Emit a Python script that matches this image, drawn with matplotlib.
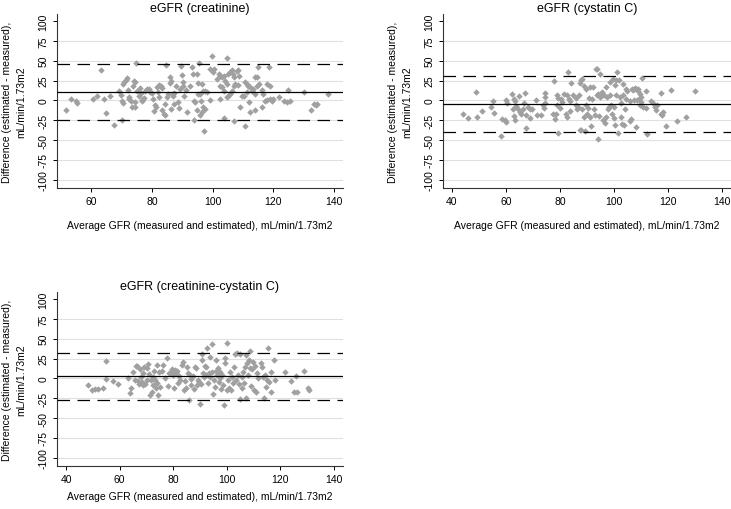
import numpy as np
import matplotlib.pyplot as plt

# Bland-Altman plots: eGFR vs measured GFR

plt.rcParams['font.family'] = ['Liberation Sans', 'DejaVu Sans']

# panel 1 - creatinine
cr_avg = [51.8, 53.5, 55.0, 55.4, 60.8, 62.1, 63.2, 64.1, 64.9, 66.3, 67.7, 69.3, 69.8, 70.1, 70.6,
          70.4, 71.0, 71.4, 71.9, 72.1, 72.4, 72.6, 73.2, 73.4, 73.7, 74.0, 74.4, 74.6, 74.7, 74.5,
          75.1, 75.7, 76.2, 76.4, 76.7, 76.9, 77.3, 77.8, 78.4, 79.2, 79.4, 80.0, 80.3, 80.6, 81.0,
          81.3, 81.8, 82.1, 82.2, 82.5, 82.9, 83.3, 83.4, 83.9, 84.2, 84.3, 84.5, 85.0, 85.3, 85.9,
          86.0, 86.2, 86.4, 86.9, 87.0, 87.2, 87.4, 88.1, 88.6, 89.0, 89.4, 89.7, 89.8, 90.2, 90.4,
          90.7, 91.3, 91.7, 92.7, 93.3, 93.5, 93.8, 94.0, 94.1, 94.7, 95.1, 95.3, 95.6, 70.2,
          94.8, 95.9, 96.4, 97.0, 97.5, 98.1, 96.2, 96.7, 97.5, 96.4, 95.8, 97.3, 99.2, 99.7, 100.3,
          100.0, 99.2, 101.4, 102.0, 102.5, 103.0, 103.6, 104.7, 104.1, 105.2, 105.8, 106.3, 106.6, 107.1, 108.0,
          108.5, 108.8, 102.5, 103.0, 103.9, 104.7, 105.2, 105.8, 106.3, 106.9, 107.4, 108.5, 109.6, 110.2, 110.7,
          111.3, 111.8, 112.4, 111.3, 112.9, 113.4, 114.0, 114.5, 115.1, 114.0, 114.5, 114.9, 116.2, 116.7, 117.8,
          118.4, 118.9, 104.7, 102.5, 109.1, 112.0, 112.4, 114.0, 116.2, 117.3, 117.8, 118.9, 119.5, 120.0, 122.0,
          123.6, 124.4, 125.5, 124.9, 130.1, 132.4, 133.4, 133.9, 134.5, 138.0, 103.9, 106.9, 110.5]
cr_diff = [-12.3, 2.3, -0.6, -2.7, 1.9, 6.1, 38.3, 2.3, -15.3, 6.1, -30.8, 12.3, 6.9, -0.2, -3.1,
           20.7, 23.6, 26.2, 27.8, 13.6, 4.4, 1.9, -1.0, -8.2, 17.8, 24.9, 23.6, -1.9, 47.5, -8.6,
           12.3, 6.1, 15.7, 9.8, -1.0, 0.6, 3.6, 12.3, 14.4, 14.4, 11.1, 9.4, 1.5, -12.8, -5.2,
           -8.6, 16.5, 10.3, 4.8, 19.5, 18.6, -12.3, 15.7, -16.9, -4.4, -18.6, 44.6, 4.8, 8.2, 22.4,
           29.5, -10.7, 24.5, 7.7, 5.6, -4.8, 9.0, 18.6, -2.3, -9.8, 14.4, 43.7, 32.0, 23.6, 17.8,
           6.1, 13.6, -14.0, 18.6, 41.6, 33.7, -0.2, -24.5, -2.3, -11.5, 8.6, 22.0, 47.1, -24.5,
           33.3, 8.2, 20.7, 11.5, 12.3, 10.3, -1.0, -8.6, -10.7, -14.9, -19.0, -37.9, 39.5, 55.4, 39.5,
           35.4, 1.0, 27.0, 33.3, 31.2, 29.1, 31.2, 52.9, 24.9, 33.3, 35.4, 38.3, 33.3, 29.1, 36.6,
           38.3, 31.2, 18.6, 16.5, 12.3, 20.7, 6.1, 8.2, 12.3, 18.6, 20.7, 19.5, 6.1, 5.2, 22.8,
           20.7, 18.6, 16.5, 10.3, 12.3, 14.4, 8.2, 18.6, 20.7, 29.9, 29.1, 42.5, 13.2, 8.2, 20.7,
           42.5, 18.6, 4.0, 1.9, -8.6, -2.3, -14.0, -11.9, -7.7, -1.0, 0.6, 1.5, -0.2, 1.9, 4.0,
           -1.0, -2.3, -1.0, 13.6, 10.3, -11.9, -4.4, -5.2, -4.4, 8.2, -22.0, -26.2, -32.8]
cr_lines = [10.3, 45.4, -24.5]  # mean, upper and lower limit of agreement

# panel 2 - cystatin C
cys_avg = [44.1, 45.9, 49.0, 49.3, 51.1, 54.5, 55.2, 55.5, 58.2, 58.6, 59.5, 59.9, 60.1, 60.3, 62.2,
           62.6, 62.8, 63.0, 63.2, 63.4, 63.8, 64.4, 64.8, 65.0, 65.6, 66.3, 66.6, 67.1, 67.3, 67.5,
           68.1, 68.7, 68.7, 69.6, 71.0, 71.5, 73.0, 73.7, 74.0, 74.3, 74.5, 74.3, 77.4, 77.7, 78.3,
           78.6, 78.8, 79.0, 79.2, 79.3, 79.8, 80.4, 80.8, 81.3, 82.3, 82.5, 82.5, 82.9, 83.3, 83.5,
           83.8, 84.1, 84.8, 85.7, 86.0, 86.2, 86.6, 87.0, 87.2, 87.6, 88.1, 87.2, 87.8, 88.2, 88.7,
           88.8, 89.2, 89.4, 89.7, 90.1, 90.3, 90.7, 90.9, 91.2, 91.5, 91.8, 92.2, 92.4, 92.8, 93.1,
           93.6, 93.8, 94.0, 93.9, 94.4, 94.6, 94.9, 95.2, 95.6, 95.9, 96.1, 96.5, 96.8, 97.1, 97.5,
           97.7, 98.1, 98.3, 98.6, 98.9, 99.3, 99.6, 99.8, 99.9, 100.2, 100.2, 100.5, 100.8, 101.2, 101.4,
           101.8, 102.0, 102.4, 102.6, 102.9, 103.3, 103.3, 103.6, 103.9, 104.2, 104.5, 104.9, 105.7, 106.0, 106.3,
           106.6, 107.0, 107.2, 107.6, 107.9, 108.2, 108.4, 108.7, 108.9, 109.2, 109.4, 109.6, 109.8, 110.0, 110.4,
           110.7, 111.6, 111.9, 112.1, 113.7, 114.4, 115.0, 115.4, 116.0, 117.4, 117.4, 117.8, 118.1, 119.0, 120.9,
           123.4, 126.4, 129.8]
cys_diff = [-16.8, -21.8, 10.5, -20.6, -13.4, -8.8, -0.8, -16.0, -45.0, -23.1, -24.4, -27.3, 0.0, -2.9, 7.6,
            -10.5, -19.7, 2.1, -0.4, -25.2, -7.1, -10.5, 5.5, -14.7, -16.8, -10.5, -2.9, 9.7, -34.9, -18.1,
            -8.4, -11.3, -21.8, -10.9, 0.0, -18.1, -18.1, -6.3, -9.2, 3.8, 9.2, -2.9, -16.8, 24.8, -23.1,
            -16.8, -5.5, 6.3, 3.4, -41.6, -9.2, 2.1, -2.1, 8.4, -16.8, -20.6, 6.3, 35.7, 2.1, -1.3,
            -13.9, 21.4, 6.3, 3.4, -6.3, -10.5, -8.4, 6.3, 22.3, 26.0, 27.3, -37.8, -37.8, -10.5, -21.0,
            17.6, -39.1, 13.9, -6.3, -16.8, -9.7, 2.9, -21.0, 16.8, -31.9, 2.1, 16.8, -10.5, -18.5, 39.5,
            39.9, 6.3, 8.4, -48.3, -19.7, 4.2, 33.6, 5.5, 10.5, -25.2, 7.1, -28.2, 16.8, -21.0, 4.2,
            -10.5, -8.4, 6.3, 23.1, -6.3, -16.8, 27.3, -8.4, -22.3, 19.7, -31.5, 26.0, 6.3, 35.7, -40.8,
            25.2, 4.2, -2.9, -21.0, -29.4, 21.0, 6.3, -31.5, -10.5, 1.3, 13.9, 11.3, -26.5, -1.3, -23.1,
            14.7, 12.6, 0.0, 15.5, 13.9, -34.0, 0.0, 11.3, 14.7, 2.1, -6.3, 8.4, 4.2, -2.1, 28.6,
            -8.4, -9.2, 11.8, -42.9, -0.8, -2.9, -8.4, -12.6, -5.5, 9.7, -16.8, -18.9, -14.7, -32.4, 12.6,
            -26.0, -21.4, 11.8]
cys_lines = [-4.6, 31.1, -39.6]

# panel 3 - creatinine-cystatin C
comb_avg = [48.0, 49.6, 50.8, 51.8, 53.7, 54.9, 54.9, 57.4, 59.5, 63.0, 63.9, 64.2, 64.8, 65.7, 66.1,
            66.6, 66.7, 67.3, 67.6, 68.0, 68.2, 68.6, 68.8, 69.1, 69.4, 70.1, 70.3, 70.7, 71.1, 71.3,
            71.6, 71.9, 72.3, 72.5, 72.9, 73.2, 73.5, 73.8, 74.0, 74.4, 74.7, 75.0, 75.7, 76.3, 77.1,
            77.8, 78.1, 78.5, 79.0, 79.4, 79.8, 80.0, 80.2, 80.6, 81.0, 81.5, 81.9, 82.2, 82.5, 83.1,
            83.5, 84.0, 84.3, 84.7, 85.2, 85.6, 86.0, 86.2, 86.5, 86.8, 87.5, 87.8, 88.1, 88.4, 88.9,
            89.3, 89.7, 89.9, 90.3, 90.6, 90.8, 91.2, 91.6, 91.8, 92.2, 92.4, 92.8, 93.0, 93.4, 93.7,
            93.9, 94.3, 94.5, 94.9, 95.2, 95.5, 95.8, 96.1, 96.4, 96.8, 97.1, 97.4, 97.6, 98.0, 98.4,
            98.6, 98.9, 99.3, 99.5, 99.9, 100.2, 100.5, 100.9, 101.1, 101.5, 102.0, 102.4, 102.7, 103.0, 103.4,
            103.9, 104.2, 104.6, 104.8, 105.1, 105.5, 105.8, 106.1, 106.5, 106.7, 107.1, 107.3, 107.6, 107.9, 108.3,
            108.6, 108.8, 109.2, 109.4, 109.8, 110.2, 110.4, 110.8, 111.1, 111.7, 112.9, 113.3, 113.5, 113.9, 114.2,
            114.8, 115.2, 115.5, 115.8, 116.4, 116.6, 117.5, 117.9, 121.6, 124.1, 125.0, 125.7, 126.2, 128.7, 130.3,
            130.7]
comb_diff = [-8.4, -14.7, -13.4, -13.4, -12.6, 22.2, -1.3, -3.4, -7.1, 0.8, -18.0, -11.7, 7.5, -2.1, 15.5,
             15.9, -3.4, -7.5, 11.3, 2.1, -4.2, 7.1, -8.4, 13.8, -7.5, -2.1, 12.6, 17.6, 5.0, -21.0,
             -2.1, -16.8, 2.1, -8.4, 9.2, -2.1, -12.6, 16.8, -6.3, -21.0, 7.5, -10.5, 9.2, 16.8, 0.0,
             26.0, -9.6, 6.3, 7.5, 11.7, 4.2, 9.2, -12.6, 10.5, 6.3, 9.2, -6.3, 2.9, -2.1, 16.8,
             21.0, -14.7, -3.4, -12.6, 14.7, 6.3, -27.3, 4.2, -8.4, -0.8, 3.4, -13.4, 14.7, 12.6, -8.4,
             -2.1, -5.0, -32.7, -7.5, 30.2, 23.1, 6.3, 2.1, 15.9, 14.7, 4.2, 38.6, -6.3, 6.3, 2.1,
             27.3, 42.8, 7.5, -19.7, -2.1, -10.5, 9.2, 23.1, 4.2, 12.6, -4.2, 8.4, 0.0, -13.4, 4.2,
             -8.4, -33.5, 18.9, 25.2, -14.7, 44.0, -2.1, -11.7, 7.5, -14.7, 2.1, -6.3, 14.7, 30.2, -2.1,
             32.3, 4.2, -7.5, 30.2, -26.4, 2.1, -11.7, 8.4, -6.3, 14.7, -25.2, 29.4, 18.9, 4.2, 23.1,
             34.8, 12.6, -9.2, 11.7, 21.0, -14.7, 15.9, -16.8, 6.3, 0.0, 18.9, 14.7, 2.1, -25.2, 4.2,
             -10.5, -2.1, 38.6, -4.2, 7.5, -17.6, 22.6, -2.1, 8.4, -3.4, -16.8, 2.5, -17.6, 9.6, -12.6,
             -14.7]
comb_lines = [3.0, 32.3, -26.6]

titles = ['eGFR (creatinine)', 'eGFR (cystatin C)', 'eGFR (creatinine-cystatin C)']
xlims = [(48.8, 142.9), (36.7, 143.2), (36.6, 143.4)]
xticks = [[60, 80, 100, 120, 140], [40, 60, 80, 100, 120, 140], [40, 60, 80, 100, 120, 140]]
yticks = [-100, -75, -50, -25, 0, 25, 50, 75, 100]

fig = plt.figure(figsize=(7.31, 5.10), dpi=100)
W, H = 731, 510
boxes = [(57, 15, 343, 189), (443, 15, 731, 189), (57, 293, 343, 467)]  # left, top, right, bottom in px
xlab_y = [226, 226, 497]
data = [(cr_avg, cr_diff, cr_lines), (cys_avg, cys_diff, cys_lines), (comb_avg, comb_diff, comb_lines)]

for i in range(3):
    l, t, r, b = boxes[i]
    ax = fig.add_axes([l / W, 1 - b / H, (r - l) / W, (b - t) / H])
    avg, diff, lines = data[i]

    for yv in yticks[:-1]:
        ax.axhline(yv, color='#e0e0e0', lw=0.8, zorder=0)

    ax.plot(avg, diff, 'D', color='#a0a0a0', markersize=3.3, markeredgewidth=0, zorder=2)
    ax.axhline(lines[0], color='black', lw=0.9, zorder=3)
    ax.axhline(lines[1], color='black', lw=0.9, dashes=(10, 6), zorder=3)
    ax.axhline(lines[2], color='black', lw=0.9, dashes=(10, 6), zorder=3)

    ax.set_xlim(xlims[i])
    ax.set_ylim(-110.3, 108.8)
    ax.set_xticks(xticks[i])
    ax.set_yticks(yticks)
    ax.set_yticklabels([str(v) for v in yticks], rotation=90, va='center')
    ax.tick_params(labelsize=7.5, length=3, width=0.7, pad=3, colors='black')
    for s in ['top', 'right']:
        ax.spines[s].set_visible(False)
    for s in ['left', 'bottom']:
        ax.spines[s].set_linewidth(0.8)
        ax.spines[s].set_color('#333333')

    ax.set_title(titles[i], fontsize=9, pad=2)
    ax.text(0.5, (b - xlab_y[i]) / (b - t),
            'Average GFR (measured and estimated), mL/min/1.73m2', transform=ax.transAxes,
            ha='center', va='center', fontsize=7.5)
    ax.text(-43 / (r - l), 0.5,
            'Difference (estimated - measured),\nmL/min/1.73m2', transform=ax.transAxes,
            ha='center', va='center', rotation=90, fontsize=7.5, multialignment='center',
            linespacing=1.55)

fig.savefig('out.png', dpi=100)
